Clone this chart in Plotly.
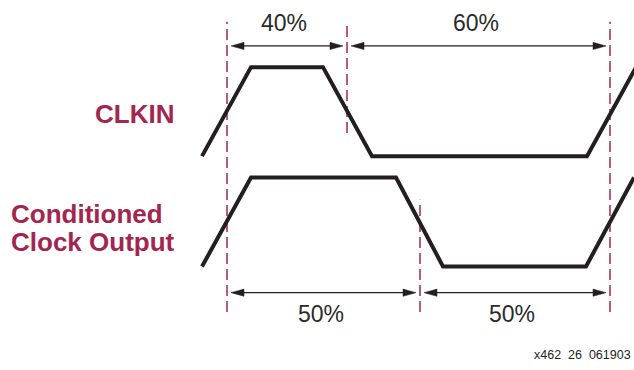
import plotly.graph_objects as go

# --------------------------
# Data (time in arbitrary units, levels 0 = low, 1 = high)
# --------------------------
CLKIN_T = [202, 251, 323, 372, 587, 636]
CLKIN_LEVEL = [0, 1, 1, 0, 0, 1]

OUT_T = [202, 251, 396, 443, 586, 634]
OUT_LEVEL = [0, 1, 1, 0, 0, 1]

# reference edges (dashed markers)
EDGE_T = [227, 347, 610, 420]
EDGE_Y0 = [-0.51, 1.50, -0.51, -0.51]
EDGE_Y1 = [2.75, 2.75, 2.75, 0.75]

# duty-cycle spans: start, end, label
TOP_SPANS = [(227, 347, "40%"), (347, 610, "60%")]
BOTTOM_SPANS = [(227, 420, "50%"), (420, 610, "50%")]

CLKIN_LABEL = "CLKIN"
OUT_LABEL_LINES = ["Conditioned", "Clock Output"]
FOOTER = "x462\u00a0\u00a026\u00a0\u00a0061903"

CLKIN_OFFSET = 1.24
PX_PER_LEVEL = 89.0
TOP_ARROW_Y = 2.478
BOTTOM_ARROW_Y = -0.294
TOP_TEXT_Y = 2.74
BOTTOM_TEXT_Y = -0.53

W, H = 634, 370
Y_RANGE = [(266.5 - H) / PX_PER_LEVEL, 266.5 / PX_PER_LEVEL]

WAVE = "#231f20"
MAROON = "#a2264f"
FONT = "Liberation Sans, Arial, Helvetica, sans-serif"


def px_to_level(py):
    return (266.5 - py) / PX_PER_LEVEL


def add_span_arrow(fig, x0, x1, y, gap=4, head_len=13, head_half=3.6):
    """Double headed arrow between two edges, leaving a small gap."""
    a, b = x0 + gap, x1 - gap
    fig.add_trace(go.Scatter(x=[a + head_len - 1, b - head_len + 1], y=[y, y], mode="lines",
                             line=dict(color=WAVE, width=1.2), hoverinfo="skip"))
    dh = head_half / PX_PER_LEVEL
    for tip, base in [(a, a + head_len), (b, b - head_len)]:
        fig.add_trace(go.Scatter(
            x=[tip, base, base, tip], y=[y, y + dh, y - dh, y],
            mode="lines", fill="toself", fillcolor=WAVE,
            line=dict(color=WAVE, width=0.5), hoverinfo="skip"))


def main():
    fig = go.Figure()

    # dashed edge markers
    for t, y0, y1 in zip(EDGE_T, EDGE_Y0, EDGE_Y1):
        fig.add_trace(go.Scatter(x=[t, t], y=[y0, y1], mode="lines",
                                 line=dict(color=MAROON, width=1.5, dash="11px,5px"),
                                 hoverinfo="skip"))

    # waveforms
    fig.add_trace(go.Scatter(x=CLKIN_T, y=[v + CLKIN_OFFSET for v in CLKIN_LEVEL], mode="lines",
                             line=dict(color=WAVE, width=4), name="CLKIN"))
    fig.add_trace(go.Scatter(x=OUT_T, y=OUT_LEVEL, mode="lines",
                             line=dict(color=WAVE, width=4), name="Conditioned Clock Output"))

    # duty cycle arrows + labels
    for spans, ay, ty in [(TOP_SPANS, TOP_ARROW_Y, TOP_TEXT_Y), (BOTTOM_SPANS, BOTTOM_ARROW_Y, BOTTOM_TEXT_Y)]:
        for x0, x1, txt in spans:
            add_span_arrow(fig, x0, x1, ay)
            fig.add_annotation(x=(x0 + x1) / 2, y=ty, text=txt, showarrow=False,
                               xanchor="center", yanchor="middle", xshift=-3,
                               font=dict(family=FONT, size=23, color="#2b2b2b"))

    # signal names
    fig.add_annotation(x=176, y=px_to_level(114), text="<b>%s</b>" % CLKIN_LABEL,
                       showarrow=False, xanchor="right", yanchor="middle",
                       font=dict(family=FONT, size=26, color=MAROON))
    for line, py in zip(OUT_LABEL_LINES, [214, 242]):
        fig.add_annotation(x=9, y=px_to_level(py), text="<b>%s</b>" % line,
                           showarrow=False, xanchor="left", yanchor="middle",
                           font=dict(family=FONT, size=26, color=MAROON))

    fig.add_annotation(x=633, y=px_to_level(355), text=FOOTER, showarrow=False,
                       xanchor="right", yanchor="middle",
                       font=dict(family=FONT, size=12.5, color=WAVE))

    # --------------------------
    # Layout
    # --------------------------
    fig.update_layout(
        width=W, height=H,
        margin=dict(l=0, r=0, t=0, b=0),
        showlegend=False,
        plot_bgcolor="#ffffff",
        paper_bgcolor="#ffffff",
    )
    fig.update_xaxes(range=[0, W], visible=False, fixedrange=True)
    fig.update_yaxes(range=Y_RANGE, visible=False, fixedrange=True)

    fig.write_html("out.html", config={"displayModeBar": False},
                   post_script="document.body.style.margin='0';")


if __name__ == "__main__":
    main()
